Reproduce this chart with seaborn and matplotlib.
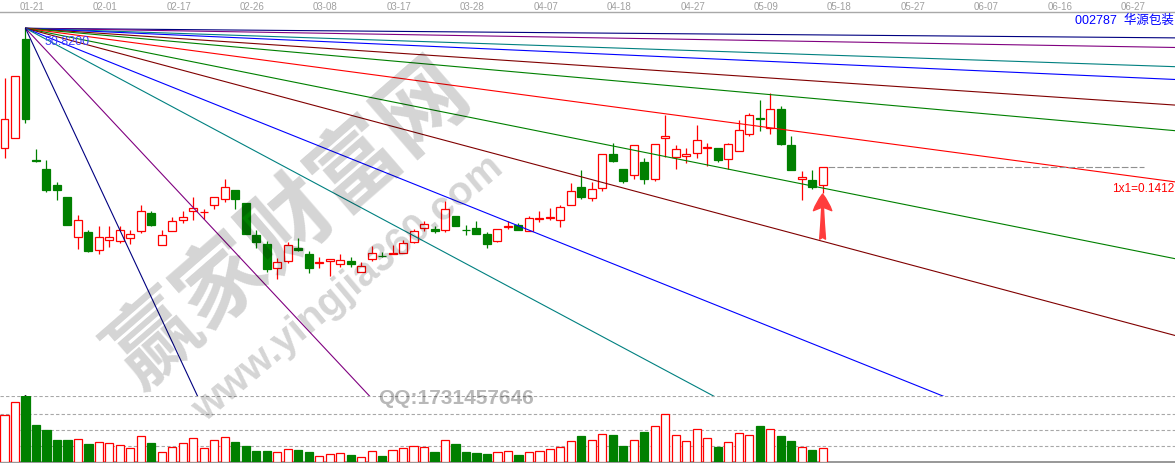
import numpy as np
import pandas as pd
import matplotlib
matplotlib.use("Agg")
import matplotlib.pyplot as plt
import matplotlib.transforms as mtransforms
import seaborn as sns

# ---- DATA ----
date_labels = ["01-21", "02-01", "02-17", "02-26", "03-08", "03-17", "03-28", "04-07",
               "04-18", "04-27", "05-09", "05-18", "05-27", "06-07", "06-16", "06-27"]

opens = [38.73, 39.74, 49.74, 37.50, 36.64, 35.06, 33.82, 29.82, 30.32, 28.45,
         29.46, 29.39, 29.66, 30.36, 32.18, 28.95, 30.36, 31.53, 32.38, 32.28,
         33.05, 33.62, 34.53, 33.22, 29.99, 29.09, 26.64, 27.34, 28.68, 28.05,
         27.14, 27.40, 27.04, 27.37, 26.26, 27.54, 27.91, 28.08, 28.15, 29.32,
         30.73, 30.63, 30.50, 31.88, 30.53, 30.73, 30.09, 29.42, 30.77, 30.97,
         30.43, 31.63, 31.67, 31.50, 32.99, 34.80, 33.69, 34.70, 38.12, 36.61,
         36.01, 37.32, 35.67, 39.74, 37.88, 37.98, 38.22, 38.79, 38.76, 37.62,
         38.46, 40.14, 41.75, 40.74, 42.69, 39.06, 35.60, 35.53, 35.00]
closes = [41.65, 46.01, 41.65, 37.45, 34.56, 34.56, 31.03, 31.50, 28.41, 29.76,
          29.76, 30.50, 30.09, 32.38, 31.03, 29.96, 31.37, 31.77, 32.71, 32.34,
          33.79, 34.80, 33.62, 30.12, 29.32, 26.60, 27.24, 28.95, 28.45, 26.64,
          27.27, 27.54, 27.47, 27.10, 26.84, 28.15, 27.85, 28.14, 29.16, 30.40,
          31.07, 30.40, 32.58, 30.93, 30.47, 30.06, 29.05, 30.57, 30.87, 30.47,
          31.67, 31.71, 31.77, 32.78, 34.46, 33.79, 34.60, 38.12, 37.48, 35.43,
          39.03, 35.60, 39.13, 39.94, 38.63, 38.12, 39.53, 38.89, 37.55, 39.13,
          40.54, 42.08, 41.65, 42.66, 39.16, 36.54, 35.84, 34.80, 36.87]
highs = [45.78, 46.01, 50.82, 38.66, 37.55, 35.33, 33.82, 32.01, 30.50, 30.90,
         30.93, 30.90, 30.50, 33.02, 32.41, 30.50, 31.84, 32.38, 33.79, 32.58,
         33.79, 35.63, 34.53, 33.22, 30.50, 29.42, 27.64, 29.26, 29.66, 28.38,
         27.81, 27.54, 28.08, 27.81, 27.24, 28.88, 28.28, 29.01, 29.49, 30.57,
         31.43, 30.90, 33.45, 31.88, 30.97, 31.43, 30.26, 30.57, 31.43, 31.23,
         31.94, 32.41, 32.68, 32.99, 35.20, 36.54, 35.36, 38.12, 39.23, 36.61,
         39.03, 37.72, 39.13, 42.08, 39.06, 38.79, 41.08, 39.23, 38.76, 39.29,
         41.58, 42.25, 43.60, 44.27, 42.96, 39.97, 36.47, 36.54, 36.87]
lows = [37.75, 39.74, 41.31, 37.38, 34.33, 33.52, 31.00, 28.61, 28.31, 28.11,
        28.81, 29.19, 29.09, 30.16, 30.87, 28.95, 30.36, 31.23, 31.53, 31.63,
        32.64, 33.29, 32.61, 30.12, 28.71, 26.29, 25.53, 27.14, 28.41, 26.19,
        26.64, 25.86, 26.74, 26.80, 26.26, 27.40, 27.74, 28.08, 28.15, 29.16,
        30.43, 30.16, 30.26, 30.93, 29.99, 30.06, 28.71, 29.32, 30.60, 30.47,
        30.43, 31.33, 31.50, 30.83, 32.99, 33.59, 33.45, 34.46, 37.32, 35.20,
        35.67, 35.13, 35.40, 37.82, 36.61, 37.22, 37.72, 36.97, 37.35, 36.67,
        38.46, 39.97, 40.50, 40.14, 39.06, 36.54, 33.52, 34.63, 34.22]
# volume, 10k lots
volume = [2.96, 3.75, 4.14, 2.33, 2.02, 1.39, 1.39, 1.44, 1.14, 1.27,
          1.19, 1.06, 0.88, 1.63, 1.21, 0.63, 0.94, 1.19, 1.50, 0.88,
          1.38, 1.56, 1.27, 1.02, 0.71, 0.71, 0.63, 0.81, 0.77, 0.64,
          0.38, 0.50, 0.56, 0.46, 0.31, 0.69, 0.39, 0.75, 0.88, 1.00,
          0.94, 0.64, 1.38, 1.14, 0.64, 0.58, 0.52, 0.63, 0.69, 0.46,
          0.63, 0.69, 0.81, 0.94, 1.31, 1.64, 1.38, 1.75, 1.71, 1.02,
          1.38, 1.89, 2.25, 3.00, 1.69, 1.31, 2.06, 1.50, 0.96, 1.25,
          1.81, 1.69, 2.27, 2.06, 1.64, 1.33, 0.94, 0.77, 0.88]

# Gann fan from the 50.82 top
fan_origin_bar = 2
fan_origin_price = 50.82
unit_1x1 = 0.1412
fan_names = ["1x16", "1x8", "1x4", "1x3", "1x2", "2x3", "1x1",
             "3x2", "2x1", "3x1", "4x1", "8x1", "16x1"]
fan_factor = [1/16, 1/8, 1/4, 1/3, 1/2, 2/3, 1, 3/2, 2, 3, 4, 8, 16]
fan_colors = ["#000080", "#800080", "#008080", "#0000ff", "#800000", "#008000", "#ff0000",
              "#008000", "#800000", "#0000ff", "#008080", "#800080", "#000080"]

stock_title = "002787  华源包装"

RED = "#ff0000"
GREEN = "#008000"

sns.set_style("white")
plt.rcParams["font.family"] = ["Liberation Sans", "Noto Sans CJK SC", "DejaVu Sans"]

W, H = 1175, 468
fig = plt.figure(figsize=(W / 100, H / 100), dpi=100)
ax = fig.add_axes([0, (H - 396) / H, 1, (396 - 12) / H])
axv = fig.add_axes([0, (H - 462.3) / H, 1, (462.3 - 396) / H])

n = len(opens)
bars = np.arange(n)
o = np.array(opens); c = np.array(closes); hi = np.array(highs); lo = np.array(lows)
up = c >= o
xmin, xmax = -0.43, 111.6

# ---- candles ----
ax.vlines(bars[up], lo[up], hi[up], color=RED, lw=0.9, zorder=2)
ax.vlines(bars[~up], lo[~up], hi[~up], color=GREEN, lw=0.9, zorder=2)
body_lo = np.minimum(o, c)
body_h = np.maximum(np.abs(c - o), 0.05)
ax.bar(bars[up], body_h[up], bottom=body_lo[up], width=0.76, facecolor="white",
       edgecolor=RED, linewidth=0.9, zorder=3)
ax.bar(bars[~up], body_h[~up], bottom=body_lo[~up], width=0.76, facecolor=GREEN,
       edgecolor=GREEN, linewidth=0.9, zorder=3)

# ---- Gann fan ----
rows = []
for name, f in zip(fan_names, fan_factor):
    for xb in (fan_origin_bar, xmax):
        rows.append((name, xb, fan_origin_price - f * unit_1x1 * (xb - fan_origin_bar)))
fan = pd.DataFrame(rows, columns=["ratio", "bar", "price"])
sns.lineplot(data=fan, x="bar", y="price", hue="ratio", palette=dict(zip(fan_names, fan_colors)),
             estimator=None, sort=False, legend=False, lw=0.8, ax=ax, zorder=4)

# current price dashed line
ax.hlines(closes[-1], n - 0.5, n + 29.6, color="#909090", lw=0.8, linestyle=(0, (6, 2)), zorder=4)

ax.annotate(f"{fan_origin_price:.4f}", xy=(fan_origin_bar, fan_origin_price), xytext=(14, -10),
            textcoords="offset points", ha="left", va="center", color="#4040ff", fontsize=9, zorder=6)

# red arrow under the last candle
tip = lows[-1] - 0.1
ax.annotate("", xy=(n - 1, tip), xytext=(n - 1, tip - 4.55),
            arrowprops=dict(arrowstyle="fancy,head_length=1.0,head_width=1.1,tail_width=0.35",
                            color="#ff3c3c", mutation_scale=12, shrinkA=0, shrinkB=0), zorder=6)

ax.set_xlim(xmin, xmax)
ax.set_ylim(13.77, 52.46)
ax.set_xticks([]); ax.set_yticks([])
ax.set_xlabel(""); ax.set_ylabel("")
for s in ["left", "right", "bottom"]:
    ax.spines[s].set_visible(False)
ax.spines["top"].set_color("#a8a8a8")
ax.spines["top"].set_linewidth(1.0)

# date labels on top strip
trans = mtransforms.blended_transform_factory(ax.transData, fig.transFigure)
for k, lab in enumerate(date_labels):
    ax.text(fan_origin_bar + 0.6 + 7 * k, 1 - 6.8 / H, lab, transform=trans, ha="center", va="center",
            fontsize=7, color="#a0a0a0")

fig.text(1174 / W, 1 - 20.5 / H, stock_title, ha="right", va="center", color="#0000ff", fontsize=9)
fig.text(1174 / W, 1 - 189 / H, f"1x1={unit_1x1:.4f}", ha="right", va="center", color=RED, fontsize=8.5)

# ---- volume ----
vol_df = pd.DataFrame({"bar": bars, "vol": volume, "dir": np.where(up, "up", "down")})
sns.barplot(data=vol_df, x="bar", y="vol", hue="dir", palette={"up": "white", "down": GREEN},
            native_scale=True, width=0.78, dodge=False, saturation=1, errorbar=None,
            legend=False, ax=axv, zorder=3)
for p in axv.patches:
    if p.get_facecolor()[1] > 0.9:
        p.set_edgecolor(RED)
    else:
        p.set_edgecolor(GREEN)
    p.set_linewidth(0.9)

vtop = 4.144
axv.set_xlim(xmin, xmax)
axv.set_ylim(0, vtop)
for lev in [1, 2, 3, vtop - 0.01]:
    axv.axhline(lev, color="#a8a8a8", lw=0.8, linestyle=(0, (3, 2)), zorder=1)
axv.plot(int(np.argmax(volume)), 0.975, marker="^", ms=5, color="black",
         transform=mtransforms.blended_transform_factory(axv.transData, axv.transAxes), clip_on=False)
axv.set_xticks([]); axv.set_yticks([])
axv.set_xlabel(""); axv.set_ylabel("")
for s in ["left", "right", "top"]:
    axv.spines[s].set_visible(False)
axv.spines["bottom"].set_color("#909090")
axv.spines["bottom"].set_linewidth(1.3)

# ---- watermark ----
fig.text(290 / W, 1 - 224 / H, "赢家财富网", rotation=41, rotation_mode="anchor", ha="center", va="center",
         fontsize=64, fontweight="bold", color="black", alpha=0.17, family=["Noto Sans CJK SC"], zorder=10)
fig.text(348 / W, 1 - 288 / H, "www.yingjia360.com", rotation=40, rotation_mode="anchor", ha="center",
         va="center", fontsize=29, fontweight="bold", color="black", alpha=0.17, zorder=10)
fig.text(456 / W, 1 - 398 / H, "QQ:1731457646", ha="center", va="center", fontsize=15, fontweight="bold",
         color="black", alpha=0.28, zorder=10)

fig.savefig("out.png", dpi=100)
